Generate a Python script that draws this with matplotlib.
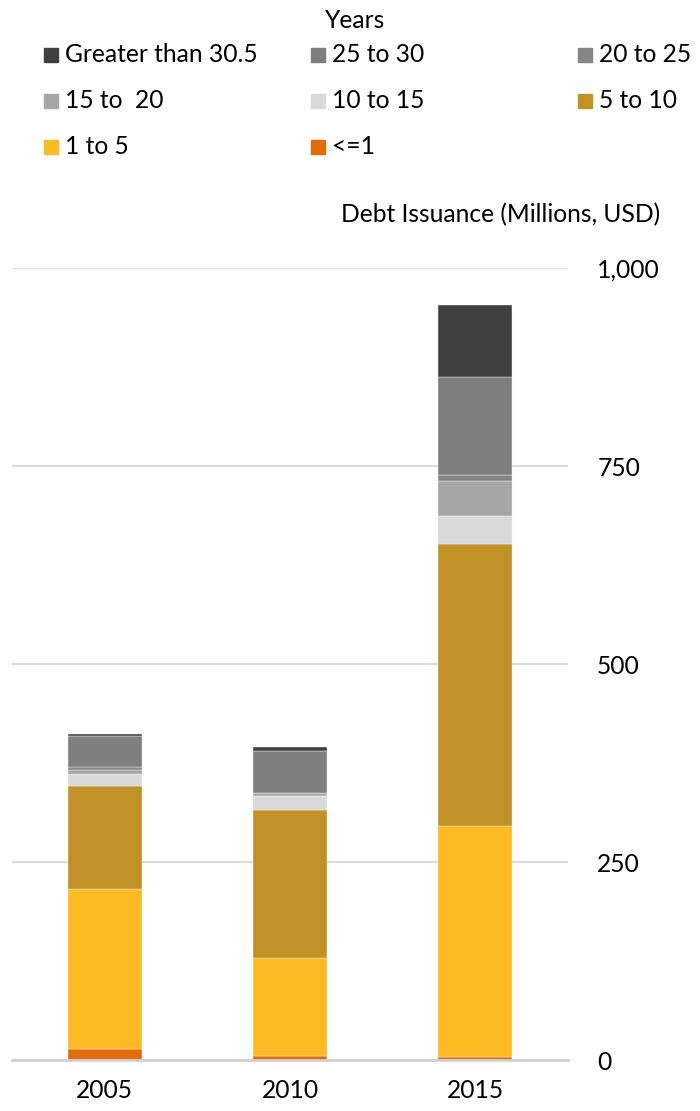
import matplotlib
matplotlib.use("Agg")
import matplotlib.pyplot as plt
from matplotlib.patches import Rectangle
import numpy as np

plt.rcParams['font.family'] = ['Lato', 'DejaVu Sans']

years = ['2005', '2010', '2015']
series_names = ['<=1', '1 to 5', '5 to 10', '10 to 15', '15 to  20',
                '20 to 25', '25 to 30', 'Greater than 30.5']
v_le1 = [13.5, 5.5, 4.2]
v_1_5 = [202, 123.5, 291]
v_5_10 = [131, 187, 356]
v_10_15 = [15, 17, 36]
v_15_20 = [5, 3.5, 44]
v_20_25 = [4, 1, 7.6]
v_25_30 = [39, 53, 123]
v_gt30 = [1.5, 4.5, 91.5]
series_values = [v_le1, v_1_5, v_5_10, v_10_15, v_15_20, v_20_25, v_25_30, v_gt30]
colors = ['#e36c0a', '#fdba22', '#c09126', '#d9d9d9', '#a6a6a6',
          '#858585', '#7f7f7f', '#404040']
yticks = [0, 250, 500, 750, 1000]
ytick_labels = ['0', '250', '500', '750', '1,000']

FS = 17.7
W, H = 700, 1111
fig = plt.figure(figsize=(W / 100, H / 100), dpi=100)
ax = fig.add_axes([12 / W, 51 / H, 556 / W, 792 / H])

x = np.arange(len(years))
bottom = np.zeros(len(years))
for name, vals, c in zip(series_names, series_values, colors):
    ax.bar(x, vals, bottom=bottom, width=0.4, color=c, edgecolor='#f2f2f2',
           linewidth=0.3, zorder=3)
    bottom += np.array(vals)

ax.set_xlim(-0.5, 2.5)
ax.set_ylim(0, 1000)
ax.set_yticks(yticks)
ax.set_yticklabels(ytick_labels)
ax.yaxis.tick_right()
ax.set_xticks(x)
ax.set_xticklabels(years)
ax.tick_params(axis='y', length=0, pad=21, labelsize=FS, colors='black')
ax.tick_params(axis='x', length=0, pad=14, labelsize=FS, colors='black')
ax.grid(axis='y', color='#d9d9d9', linewidth=1.3, zorder=0)
for s in ['top', 'left', 'right']:
    ax.spines[s].set_visible(False)
ax.spines['bottom'].set_color('#d0d0d0')
ax.spines['bottom'].set_linewidth(2)
ax.spines['bottom'].set_zorder(4)

fig.text(660 / W, 1 - 215 / H, 'Debt Issuance (Millions, USD)', ha='right',
         va='center', fontsize=FS)

# Legend
fig.text(355 / W, 1 - 20 / H, 'Years', ha='center', va='center', fontsize=FS)
legend_order = ['Greater than 30.5', '25 to 30', '20 to 25',
                '15 to  20', '10 to 15', '5 to 10',
                '1 to 5', '<=1']
col_x = [44, 311, 578]
row_y = [55, 101, 147]
for i, name in enumerate(legend_order):
    r, cidx = divmod(i, 3)
    c = colors[series_names.index(name)]
    mx, my = col_x[cidx], row_y[r]
    fig.patches.append(Rectangle((mx / W, 1 - (my + 7) / H), 14 / W, 14 / H,
                                 transform=fig.transFigure, color=c))
    fig.text((mx + 21) / W, 1 - my / H, name, ha='left', va='center',
             fontsize=FS)

fig.savefig('out.png', dpi=100)
